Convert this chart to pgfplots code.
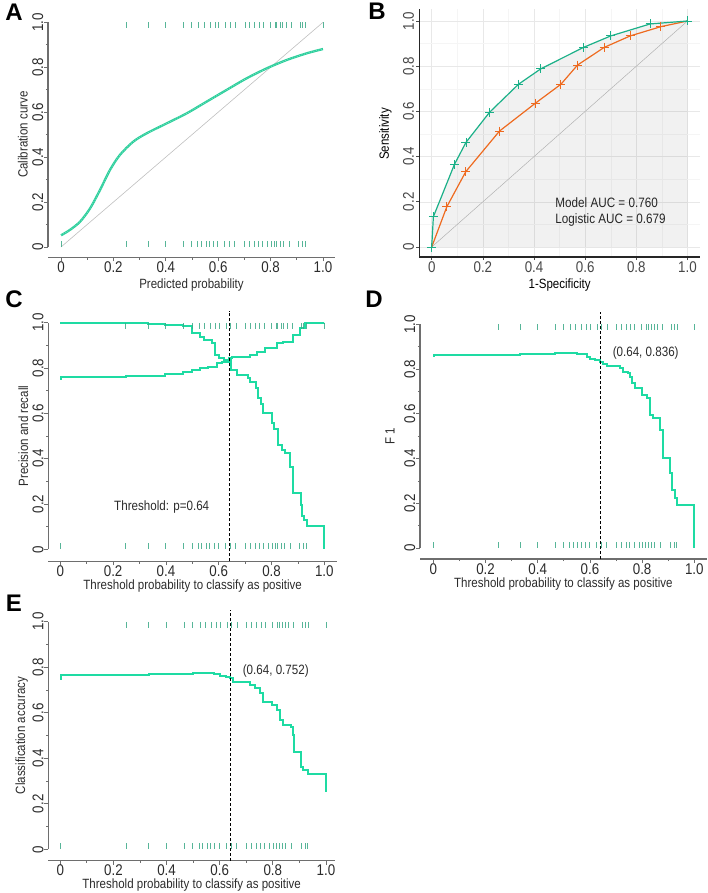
\documentclass[border=0pt]{standalone}
\usepackage{fontspec}
\setmainfont{Liberation Sans}[FakeStretch=0.86]
\newfontfamily\panelfont{Liberation Sans}
\usepackage{pgfplots}
\usepackage{pgfplotstable}
\pgfplotsset{compat=1.18}

\definecolor{curve}{HTML}{1EDBA3}
\definecolor{calib}{HTML}{2CCF9C}
\definecolor{rug}{HTML}{3AA886}
\definecolor{axgray}{HTML}{6E6E6E}
\definecolor{txt}{HTML}{2B2B2B}
\definecolor{rocgreen}{HTML}{1BB088}
\definecolor{rocorange}{HTML}{EE6A1F}

% rug positions (predicted probabilities of the two outcome groups)
\pgfplotstableread{
x y
0.000 0.0135
0.248 0.0135
0.333 0.0135
0.398 0.0135
0.467 0.0135
0.499 0.0135
0.522 0.0135
0.535 0.0135
0.554 0.0135
0.566 0.0135
0.582 0.0135
0.598 0.0135
0.624 0.0135
0.643 0.0135
0.662 0.0135
0.700 0.0135
0.719 0.0135
0.738 0.0135
0.753 0.0135
0.770 0.0135
0.789 0.0135
0.802 0.0135
0.814 0.0135
0.823 0.0135
0.836 0.0135
0.849 0.0135
0.871 0.0135
0.907 0.0135
0.922 0.0135
0.931 0.0135
}\rugbottom
\pgfplotstableread{
x y
0.248 0.9865
0.333 0.9865
0.398 0.9865
0.467 0.9865
0.499 0.9865
0.526 0.9865
0.546 0.9865
0.569 0.9865
0.588 0.9865
0.601 0.9865
0.628 0.9865
0.645 0.9865
0.667 0.9865
0.702 0.9865
0.721 0.9865
0.740 0.9865
0.756 0.9865
0.772 0.9865
0.798 0.9865
0.817 0.9865
0.823 0.9865
0.836 0.9865
0.846 0.9865
0.859 0.9865
0.878 0.9865
0.912 0.9865
0.922 0.9865
0.934 0.9865
1.000 0.9865
}\rugtop

\pgfplotsset{
  rstyle/.style={
    scale only axis, clip=false,
    axis x line*=bottom, axis y line*=left,
    x axis line style={draw=axgray, line width=1.1pt},
    y axis line style={draw=none},
    tick align=outside,
    major tick length=4pt, minor tick length=2.2pt,
    minor tick num=1,
    tick style={axgray, line width=0.8pt},
    xtick={0,0.2,0.4,0.6,0.8,1}, ytick={0,0.2,0.4,0.6,0.8,1},
    xticklabels={0,0.2,0.4,0.6,0.8,1.0},
    yticklabels={0,0.2,0.4,0.6,0.8,1.0},
    ticklabel style={font=\fontsize{15.5}{16}\selectfont, text=txt},
    xticklabel style={anchor=north, inner sep=0pt},
    yticklabel style={rotate=90, anchor=south, inner sep=0.5pt},
    label style={font=\fontsize{13.4}{16}\selectfont, text=txt, inner sep=0pt},
    xlabel style={anchor=center},
    ylabel style={anchor=center, rotate=0},
  },
  rugs/.style={only marks, mark=|, mark size=3pt, color=rug, opacity=0.85,
    mark options={line width=0.85pt}},
  stepcurve/.style={const plot mark left, color=curve, line width=2pt, line join=miter},
  thresh/.style={black, dashed, line width=0.8pt, dash pattern=on 3pt off 2pt},
}

\begin{document}
\begin{tikzpicture}
\useasboundingbox (0,0) rectangle (708pt,-893pt);

% ---------------- Panel A ----------------
\begin{axis}[rstyle,
  at={(48pt,-257.3pt)}, anchor=south west,
  width=287pt, height=245.3pt,
  xmin=-0.0496, xmax=1.0458, ymin=-0.0458, ymax=1.0458,
  xlabel={Predicted probability}, ylabel={Calibration curve},
  xlabel style={at={(axis description cs:0.5,-0.115)}},
  ylabel style={at={(axis description cs:-0.088,0.5)}},
]
\draw[axgray, line width=1.1pt] (axis cs:-0.0496,0) -- (axis cs:-0.0496,1);
\addplot[color=black!25, line width=0.6pt] coordinates {(0,0) (1,1)};
\addplot[rugs] table[x=x,y=y] {\rugbottom};
\addplot[rugs] table[x=x,y=y] {\rugtop};
\addplot[color=calib, line width=2.3pt, smooth] coordinates {
(0,0.052) (0.034,0.076) (0.073,0.113) (0.111,0.172) (0.149,0.254)
(0.187,0.343) (0.225,0.410) (0.276,0.469) (0.327,0.506) (0.403,0.550)
(0.480,0.595) (0.556,0.647) (0.632,0.699) (0.709,0.751) (0.785,0.795)
(0.861,0.832) (0.938,0.862) (1.0,0.881)};
\addplot[color=white, opacity=0.35, line width=0.8pt, smooth, dash pattern=on 1pt off 1.5pt] coordinates {
(0,0.052) (0.034,0.076) (0.073,0.113) (0.111,0.172) (0.149,0.254)
(0.187,0.343) (0.225,0.410) (0.276,0.469) (0.327,0.506) (0.403,0.550)
(0.480,0.595) (0.556,0.647) (0.632,0.699) (0.709,0.751) (0.785,0.795)
(0.861,0.832) (0.938,0.862) (1.0,0.881)};
\end{axis}

% ---------------- Panel B ----------------
\begin{axis}[
  at={(419.3pt,-257pt)}, anchor=south west,
  scale only axis, clip=false,
  width=280.7pt, height=248pt,
  xmin=-0.0485, xmax=1.0489, ymin=-0.0442, ymax=1.0531,
  axis lines*=left,
  axis line style={black!85, line width=1.1pt},
  grid=both,
  major grid style={black!9, line width=0.6pt},
  minor grid style={black!4, line width=0.45pt},
  minor tick num=1, minor tick length=0pt,
  tick align=outside, major tick length=3pt,
  tick style={black!70, line width=0.7pt},
  xtick={0,0.2,0.4,0.6,0.8,1}, ytick={0,0.2,0.4,0.6,0.8,1},
  xticklabels={0,0.2,0.4,0.6,0.8,1.0},
  yticklabels={0,0.2,0.4,0.6,0.8,1.0},
  ticklabel style={font=\fontsize{15.5}{16}\selectfont, text=black!72},
  xticklabel style={anchor=north, inner sep=1pt},
  yticklabel style={rotate=90, anchor=south, inner sep=2pt},
  label style={font=\fontsize{13.4}{16}\selectfont, text=black, inner sep=0pt},
  xlabel={1-Specificity}, ylabel={Sensitivity},
  xlabel style={anchor=center, at={(axis description cs:0.5,-0.113)}},
  ylabel style={anchor=center, rotate=0, at={(axis description cs:-0.121,0.496)}},
]
\addplot[draw=none, fill=black, fill opacity=0.055] coordinates {
(0,0) (0.0065,0.134) (0.089,0.366) (0.134,0.463) (0.226,0.596) (0.339,0.720)
(0.426,0.788) (0.593,0.883) (0.700,0.934) (0.854,0.987) (1,1) (1,0) (0,0)};
\addplot[color=black!30, line width=0.5pt] coordinates {(0,0) (1,1)};
\addplot[color=rocorange, line width=1.2pt, mark=+, mark size=4.5pt,
  mark options={line width=0.9pt}] coordinates {
(0,0) (0.059,0.178) (0.133,0.333) (0.265,0.513) (0.405,0.636) (0.505,0.720)
(0.570,0.805) (0.674,0.883) (0.776,0.934) (0.896,0.975) (1,1)};
\addplot[color=rocgreen, line width=1.2pt, mark=+, mark size=4.5pt,
  mark options={line width=0.9pt}] coordinates {
(0,0) (0.0065,0.134) (0.089,0.366) (0.134,0.463) (0.226,0.596) (0.339,0.720)
(0.426,0.788) (0.593,0.883) (0.700,0.934) (0.854,0.987) (1,1)};
\node[anchor=west, font=\fontsize{13.6}{16}\selectfont, text=black!85] at (axis cs:0.47,0.196) {Model AUC = 0.760};
\node[anchor=west, font=\fontsize{13.6}{16}\selectfont, text=black!85] at (axis cs:0.47,0.120) {Logistic AUC = 0.679};
\end{axis}

% ---------------- Panel C ----------------
\begin{axis}[rstyle,
  at={(48.3pt,-561.3pt)}, anchor=south west,
  width=288.7pt, height=250.6pt,
  xmin=-0.0455, xmax=1.048, ymin=-0.053, ymax=1.053,
  xlabel={Threshold probability to classify as positive}, ylabel={Precision and recall},
  xlabel style={at={(axis description cs:0.5,-0.0986)}},
  ylabel style={at={(axis description cs:-0.0866,0.5)}},
]
\draw[axgray, line width=1.1pt] (axis cs:-0.0455,0) -- (axis cs:-0.0455,1);
\addplot[rugs] table[x=x,y=y] {\rugbottom};
\addplot[rugs] table[x=x,y=y] {\rugtop};
\addplot[stepcurve] coordinates {
(0,1.0) (0.249,0.998) (0.333,0.996) (0.397,0.99) (0.466,0.985) (0.498,0.953)
(0.529,0.938) (0.545,0.924) (0.575,0.909) (0.587,0.857) (0.600,0.843) (0.620,0.835)
(0.647,0.790) (0.668,0.769) (0.710,0.755) (0.718,0.740) (0.741,0.710) (0.750,0.668)
(0.760,0.640) (0.769,0.600) (0.800,0.556) (0.810,0.530) (0.826,0.460) (0.838,0.438)
(0.851,0.424) (0.870,0.362) (0.880,0.250) (0.910,0.195) (0.914,0.147) (0.923,0.129)
(0.933,0.104) (1.0,0.0)};
\addplot[stepcurve] coordinates {
(0,0.752) (0.003,0.762) (0.249,0.764) (0.333,0.767) (0.397,0.775) (0.466,0.784)
(0.498,0.791) (0.529,0.798) (0.561,0.806) (0.592,0.820) (0.611,0.828) (0.639,0.843)
(0.649,0.850) (0.719,0.857) (0.744,0.872) (0.775,0.887) (0.820,0.909) (0.845,0.916)
(0.883,0.946) (0.908,0.975) (0.927,0.997) (1.0,1.0)};
\addplot[thresh] coordinates {(0.639,-0.053) (0.639,1.053)};
\node[font=\fontsize{13.5}{16}\selectfont, text=txt] at (axis cs:0.384,0.185) {Threshold: p=0.64};
\end{axis}

% ---------------- Panel D ----------------
\begin{axis}[rstyle,
  at={(420pt,-559pt)}, anchor=south west,
  width=286.7pt, height=245.7pt,
  xmin=-0.051, xmax=1.0475, ymin=-0.049, ymax=1.049,
  xlabel={Threshold probability to classify as positive}, ylabel={F 1},
  xlabel style={at={(axis description cs:0.5,-0.103)}},
  ylabel style={at={(axis description cs:-0.1046,0.5)}},
]
\draw[axgray, line width=1.1pt] (axis cs:-0.051,0) -- (axis cs:-0.051,1);
\addplot[rugs] table[x=x,y=y] {\rugbottom};
\addplot[rugs] table[x=x,y=y] {\rugtop};
\addplot[stepcurve] coordinates {
(0,0.857) (0.003,0.862) (0.250,0.864) (0.333,0.866) (0.400,0.868) (0.466,0.870)
(0.549,0.866) (0.588,0.855) (0.600,0.845) (0.620,0.840) (0.639,0.833) (0.649,0.822)
(0.664,0.813) (0.715,0.803) (0.728,0.788) (0.747,0.781) (0.754,0.766) (0.760,0.736)
(0.773,0.714) (0.798,0.684) (0.818,0.669) (0.830,0.595) (0.843,0.580) (0.869,0.527)
(0.879,0.401) (0.907,0.334) (0.913,0.259) (0.926,0.222) (0.935,0.192) (1.0,0.0)};
\addplot[thresh] coordinates {(0.639,-0.049) (0.639,1.055)};
\node[anchor=west, font=\fontsize{13.5}{16}\selectfont, text=txt] at (axis cs:0.674,0.870) {(0.64, 0.836)};
\end{axis}

% ---------------- Panel E ----------------
\begin{axis}[rstyle,
  at={(48.3pt,-860.7pt)}, anchor=south west,
  width=286.7pt, height=250.4pt,
  xmin=-0.045, xmax=1.034, ymin=-0.05, ymax=1.05,
  xlabel={Threshold probability to classify as positive}, ylabel={Classification accuracy},
  xlabel style={at={(axis description cs:0.5,-0.096)}},
  ylabel style={at={(axis description cs:-0.0928,0.5)}},
]
\draw[axgray, line width=1.1pt] (axis cs:-0.045,0) -- (axis cs:-0.045,1);
\addplot[rugs] table[x=x,y=y] {\rugbottom};
\addplot[rugs] table[x=x,y=y] {\rugtop};
\addplot[stepcurve] coordinates {
(0,0.747) (0.003,0.764) (0.250,0.766) (0.333,0.769) (0.400,0.772) (0.500,0.775)
(0.580,0.772) (0.601,0.762) (0.625,0.758) (0.639,0.752) (0.651,0.734) (0.714,0.722)
(0.733,0.707) (0.752,0.685) (0.764,0.649) (0.796,0.634) (0.814,0.612) (0.827,0.568)
(0.839,0.546) (0.868,0.536) (0.875,0.502) (0.880,0.429) (0.905,0.363) (0.915,0.348)
(0.933,0.331) (1.0,0.253)};
\addplot[thresh] coordinates {(0.639,-0.05) (0.639,1.05)};
\node[anchor=west, font=\fontsize{13.5}{16}\selectfont, text=txt] at (axis cs:0.674,0.783) {(0.64, 0.752)};
\end{axis}

% panel letters
\node[font=\panelfont\bfseries\fontsize{24}{24}\selectfont] at (14pt,-12pt) {A};
\node[font=\panelfont\bfseries\fontsize{24}{24}\selectfont] at (377pt,-11pt) {B};
\node[font=\panelfont\bfseries\fontsize{24}{24}\selectfont] at (14pt,-299pt) {C};
\node[font=\panelfont\bfseries\fontsize{24}{24}\selectfont] at (374pt,-299pt) {D};
\node[font=\panelfont\bfseries\fontsize{24}{24}\selectfont] at (14pt,-603pt) {E};
\end{tikzpicture}
\end{document}
